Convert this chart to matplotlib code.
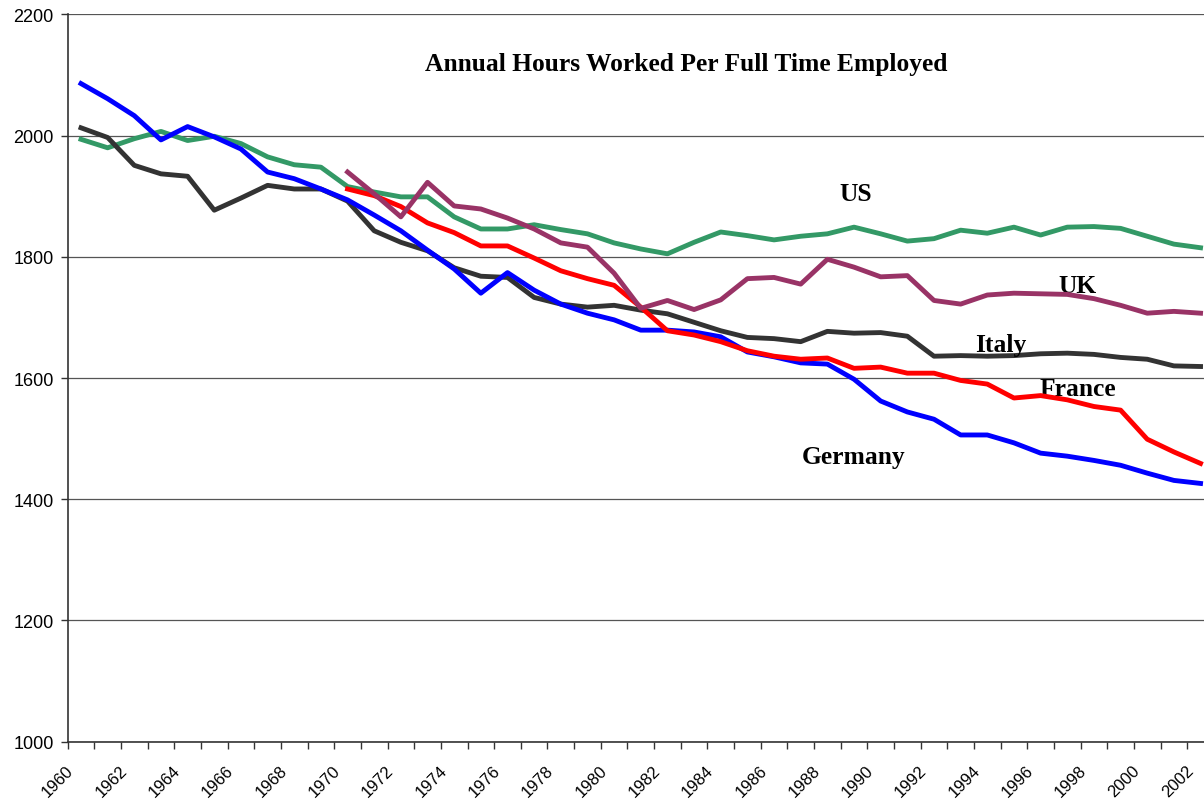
import matplotlib
matplotlib.use("Agg")
import matplotlib.pyplot as plt
import matplotlib.transforms as mtransforms
import numpy as np

years = list(range(1960, 2003))
years_70 = list(range(1970, 2003))

germany = [2086, 2061, 2033, 1993, 2015, 1998, 1978, 1940, 1929, 1912,
           1894, 1869, 1843, 1811, 1780, 1740, 1774, 1745, 1722, 1707,
           1696, 1679, 1679, 1676, 1668, 1643, 1635, 1625, 1623, 1598,
           1562, 1544, 1532, 1506, 1506, 1493, 1476, 1471, 1464, 1456,
           1443, 1431, 1426]
italy = [2013, 1997, 1951, 1937, 1933, 1877, 1897, 1918, 1912, 1912,
         1892, 1843, 1824, 1810, 1782, 1768, 1766, 1733, 1722, 1717,
         1720, 1712, 1706, 1692, 1678, 1667, 1665, 1660, 1677, 1674,
         1675, 1669, 1636, 1637, 1636, 1637, 1640, 1641, 1639, 1634,
         1631, 1620, 1619]
us = [1994, 1980, 1995, 2007, 1992, 1999, 1987, 1965, 1952, 1948,
      1916, 1907, 1899, 1899, 1866, 1846, 1846, 1853, 1845, 1838,
      1823, 1813, 1805, 1824, 1841, 1835, 1828, 1834, 1838, 1849,
      1838, 1826, 1830, 1844, 1839, 1849, 1836, 1849, 1850, 1847,
      1834, 1821, 1815]
france = [1912, 1901, 1883, 1856, 1840, 1818, 1818, 1798, 1777, 1764,
          1753, 1717, 1678, 1671, 1660, 1645, 1636, 1631, 1633, 1616,
          1618, 1608, 1608, 1596, 1590, 1567, 1571, 1564, 1553, 1547,
          1499, 1478, 1459]
uk = [1940, 1904, 1866, 1923, 1884, 1879, 1864, 1846, 1823, 1816,
      1773, 1715, 1728, 1713, 1729, 1764, 1766, 1755, 1796, 1783,
      1767, 1769, 1728, 1722, 1737, 1740, 1739, 1738, 1731, 1720,
      1707, 1710, 1707]

fig = plt.figure(figsize=(12.04, 8.03), dpi=100)
ax = fig.add_axes([0.0562, 0.0753, 0.952, 0.9054])

lw = 3.5
ax.plot(years, us, color="#339966", lw=lw, solid_joinstyle="round", zorder=3)
ax.plot(years, italy, color="#333333", lw=lw, solid_joinstyle="round", zorder=3)
ax.plot(years, germany, color="#0000FF", lw=lw, solid_joinstyle="round", zorder=4)
ax.plot(years_70, france, color="#FF0000", lw=lw, solid_joinstyle="round", zorder=5)
ax.plot(years_70, uk, color="#993366", lw=lw, solid_joinstyle="round", zorder=6)

ax.set_xlim(1959.5, 2002.5)
ax.set_ylim(1000, 2200)
ax.set_yticks(range(1000, 2201, 200))
ax.yaxis.grid(True, color="#555555", lw=0.9)
ax.set_axisbelow(True)

ax.set_xticks(range(1960, 2003, 2))
ax.set_xticks(np.arange(1959.5, 2003, 1), minor=True)
ax.tick_params(axis="x", which="major", length=0, pad=15)
ax.tick_params(axis="x", which="minor", length=5, width=1, color="#333333")
ax.tick_params(axis="y", length=5, width=1, color="#333333", pad=5)
for lab in ax.get_xticklabels():
    lab.set_rotation(45)
    lab.set_ha("right")
    lab.set_rotation_mode("anchor")
    lab.set_fontfamily("Liberation Sans")
    lab.set_fontsize(12)
    lab.set_transform(lab.get_transform() +
                      mtransforms.ScaledTranslation(-15 / 100, 0, fig.dpi_scale_trans))
for lab in ax.get_yticklabels():
    lab.set_fontfamily("Liberation Sans")
    lab.set_fontsize(13)

for side in ["top", "right"]:
    ax.spines[side].set_visible(False)
for side in ["left", "bottom"]:
    ax.spines[side].set_color("#333333")
    ax.spines[side].set_linewidth(1.2)

tf = dict(family="Liberation Serif", fontweight="bold", ha="center", va="center")
ax.text(1982.7, 2119, "Annual Hours Worked Per Full Time Employed", fontsize=18.4, **tf)
ax.text(1989.05, 1904, "US", fontsize=18.4, **tf)
ax.text(1997.4, 1752, "UK", fontsize=18.4, **tf)
ax.text(1994.5, 1655, "Italy", fontsize=18.4, **tf)
ax.text(1997.4, 1583, "France", fontsize=18.4, **tf)
ax.text(1989.0, 1471, "Germany", fontsize=18.4, **tf)

fig.savefig("out.png", dpi=100)
